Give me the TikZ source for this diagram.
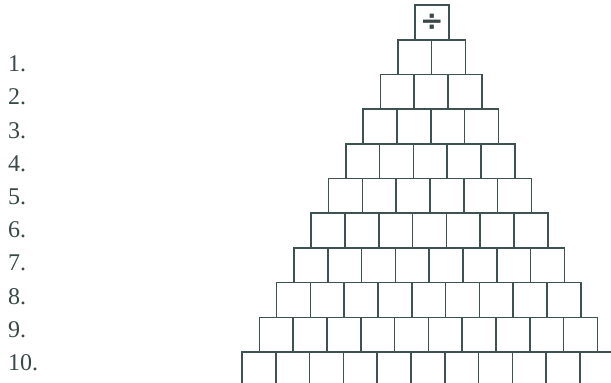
\documentclass[tikz,border=0pt]{standalone}
\usepackage{fontspec}
\setmainfont{Liberation Serif}
\newfontfamily\symfont{DejaVu Sans}
\definecolor{linec}{HTML}{3E5252}
\definecolor{labc}{HTML}{3A4848}
\begin{document}
\begin{tikzpicture}[x=1pt,y=-1pt,
  cell/.style={draw=linec, line width=1.6pt, minimum width=33.8pt, minimum height=34.7pt, inner sep=0pt, outer sep=0pt, anchor=north west},
  lab/.style={anchor=west, inner sep=0pt, text=labc, font=\fontsize{24}{24}\selectfont}]
\useasboundingbox (0,0) rectangle (611,383);
\clip (0,0) rectangle (611,383);
\node[cell, font=\symfont\bfseries\fontsize{28}{28}\selectfont, text=labc] (top) at (415,5) {÷};
\foreach \k in {1,...,10}{
  \pgfmathsetmacro{\ty}{5+34.7*\k}
  \pgfmathsetmacro{\lx}{415-17.3*\k}
  \foreach \i in {0,...,\k}{
    \node[cell] (b\k-\i) at ({\lx+33.8*\i},\ty) {};
  }
  \pgfmathsetmacro{\ly}{64+33.2*(\k-1)}
  \node[lab] (l\k) at (8,\ly) {\k.};
}
\end{tikzpicture}
\end{document}
